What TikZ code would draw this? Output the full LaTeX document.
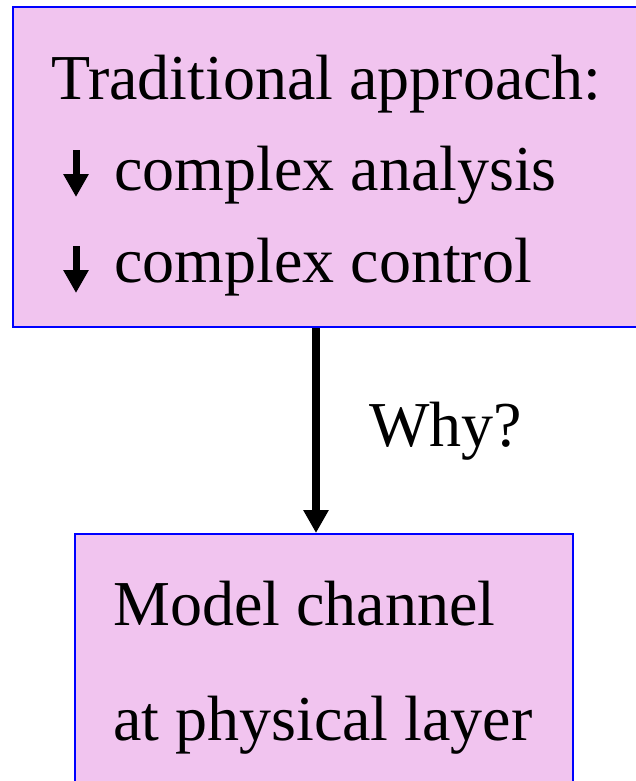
\documentclass[tikz,border=0pt]{standalone}
\usepackage{fontspec}
\setmainfont{Liberation Serif}
\usetikzlibrary{arrows.meta}
\definecolor{boxfill}{RGB}{241,196,239}
\definecolor{boxline}{RGB}{0,0,255}
\begin{document}
\begin{tikzpicture}[x=1pt,y=-1pt,
  panel/.style={draw=boxline, fill=boxfill, line width=2pt, inner sep=0pt, anchor=north west},
  txt/.style={anchor=base west, inner sep=0pt, font=\fontsize{64}{70}\selectfont},
  flow/.style={line width=8pt, -{Triangle[width=24pt,length=23pt]}},
  mark arrow/.style={line width=7pt, -{Triangle[width=24pt,length=23pt]}}]
\useasboundingbox (0,0) rectangle (635,781);
% the two boxes
\node[panel, minimum width=660pt, minimum height=320pt] (top) at (12,6) {};
\node[panel, minimum width=498pt, minimum height=300pt] (bottom) at (74,533) {};
% contents of the upper box
\node[txt] (trad) at (51,100) {Traditional approach:};
\node[txt] (ana) at (114,190) {complex analysis};
\node[txt] (ctl) at (114,282) {complex control};
% downward markers in front of the two list items
\coordinate (m1a) at (76,150);
\coordinate (m1b) at (76,197);
\coordinate (m2a) at (76,246);
\coordinate (m2b) at (76,293);
\draw[mark arrow] (m1a) -- (m1b);
\draw[mark arrow] (m2a) -- (m2b);
% contents of the lower box
\node[txt] (model) at (113,625) {Model channel};
\node[txt] (phys) at (113,740) {at physical layer};
% connector
\coordinate (axis) at (316,0);
\draw[flow] (axis |- top.south) -- (axis |- bottom.north);
\node[txt] (why) at (369,446) {Why?};
\end{tikzpicture}
\end{document}
